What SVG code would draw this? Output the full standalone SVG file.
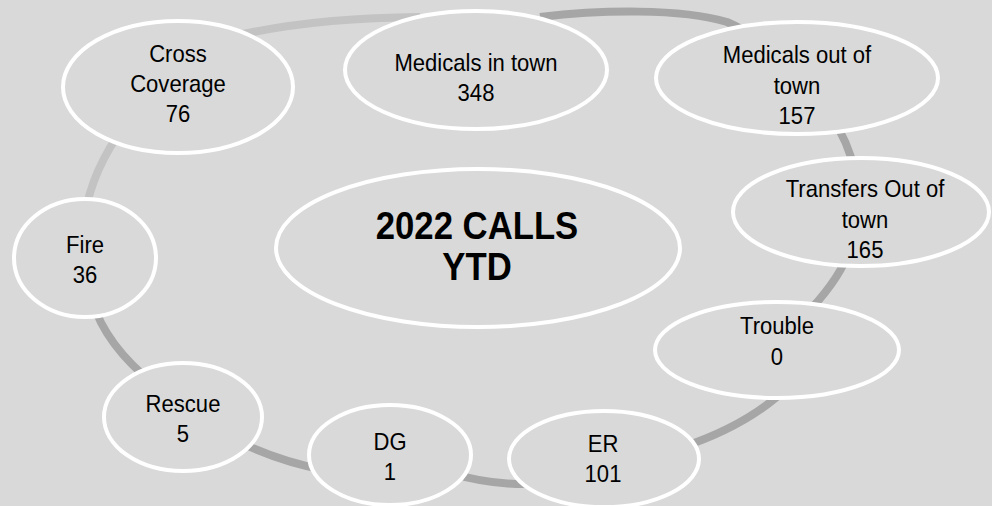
<svg xmlns="http://www.w3.org/2000/svg" width="992" height="506" viewBox="0 0 992 506">
<style>
.bg{fill:#d9d9d9}
.node ellipse{fill:#d9d9d9;stroke:#ffffff;stroke-width:4}
.node text{font-family:"Liberation Sans",Arial,sans-serif;font-size:24px;fill:#000;text-anchor:middle}
.title text{font-family:"Liberation Sans",Arial,sans-serif;font-size:39px;font-weight:bold;fill:#000;text-anchor:middle}
.ring{fill:none;stroke-width:8}
.dark{stroke:#a6a6a6}
.light{stroke:#c3c3c3}
</style>
<rect class="bg" x="0" y="0" width="992" height="506"/>
<g id="connectors">
<path class="ring light" d="M 200,45 Q 290,18 420,17"/>
<path class="ring dark" d="M 540,17 C 600,10 680,8 727,22 Q 745,30 760,40"/>
<path class="ring dark" d="M 830,115 Q 848,140 856,175"/>
<path class="ring dark" d="M 848,255 Q 835,285 805,315"/>
<path class="ring dark" d="M 790,385 Q 750,425 680,448"/>
<path class="ring dark" d="M 530,484 Q 490,485 450,473"/>
<path class="ring dark" d="M 325,470 Q 280,462 235,440"/>
<path class="ring dark" d="M 155,385 Q 105,345 92,300"/>
<path class="ring light" d="M 85,215 Q 92,170 125,125"/>
</g>
<g id="node-center" class="node title">
<ellipse cx="478" cy="248" rx="202" ry="79"/>
<g transform="translate(477,0) scale(0.89,1)">
<text x="0" y="239">2022 CALLS</text>
<text x="0" y="280">YTD</text>
</g>
</g>
<g id="node-cross" class="node">
<ellipse cx="178" cy="87" rx="115" ry="66"/>
<g transform="translate(178,0) scale(0.92,1)">
<text x="0" y="62">Cross</text>
<text x="0" y="92">Coverage</text>
<text x="0" y="122">76</text>
</g>
</g>
<g id="node-medin" class="node">
<ellipse cx="476" cy="70" rx="131" ry="59"/>
<g transform="translate(476,0) scale(0.92,1)">
<text x="0" y="71">Medicals in town</text>
<text x="0" y="101">348</text>
</g>
</g>
<g id="node-medout" class="node">
<ellipse cx="797" cy="78" rx="141" ry="56"/>
<g transform="translate(797,0) scale(0.92,1)">
<text x="0" y="63">Medicals out of</text>
<text x="0" y="94">town</text>
<text x="0" y="124">157</text>
</g>
</g>
<g id="node-transfers" class="node">
<ellipse cx="861" cy="212" rx="128" ry="54"/>
<g transform="translate(865,0) scale(0.92,1)">
<text x="0" y="197">Transfers Out of</text>
<text x="0" y="228">town</text>
<text x="0" y="258">165</text>
</g>
</g>
<g id="node-trouble" class="node">
<ellipse cx="777" cy="350" rx="122" ry="48"/>
<g transform="translate(777,0) scale(0.92,1)">
<text x="0" y="334">Trouble</text>
<text x="0" y="365">0</text>
</g>
</g>
<g id="node-er" class="node">
<ellipse cx="604" cy="459" rx="95" ry="48"/>
<g transform="translate(603,0) scale(0.92,1)">
<text x="0" y="452">ER</text>
<text x="0" y="482">101</text>
</g>
</g>
<g id="node-dg" class="node">
<ellipse cx="390" cy="455" rx="81" ry="50"/>
<g transform="translate(390,0) scale(0.92,1)">
<text x="0" y="450">DG</text>
<text x="0" y="480">1</text>
</g>
</g>
<g id="node-rescue" class="node">
<ellipse cx="183" cy="417" rx="79" ry="54"/>
<g transform="translate(183,0) scale(0.92,1)">
<text x="0" y="412">Rescue</text>
<text x="0" y="442">5</text>
</g>
</g>
<g id="node-fire" class="node">
<ellipse cx="85" cy="258" rx="71" ry="59"/>
<g transform="translate(85,0) scale(0.92,1)">
<text x="0" y="253">Fire</text>
<text x="0" y="283">36</text>
</g>
</g>
</svg>
